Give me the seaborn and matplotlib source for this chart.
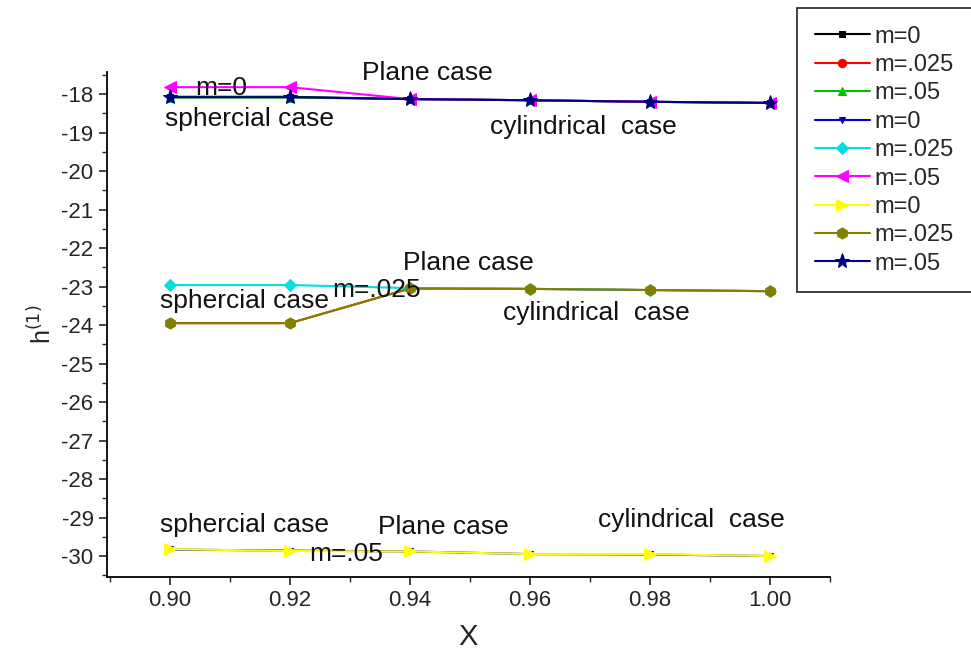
import matplotlib
matplotlib.use("Agg")
import matplotlib.pyplot as plt
import seaborn as sns
import numpy as np
from matplotlib.ticker import MultipleLocator

sns.set_style("ticks")
plt.rcParams['font.family'] = ['Liberation Sans', 'DejaVu Sans']
plt.rcParams['axes.unicode_minus'] = False

x = [0.90, 0.92, 0.94, 0.96, 0.98, 1.00]

labels = ["m=0", "m=.025", "m=.05", "m=0", "m=.025", "m=.05", "m=0", "m=.025", "m=.05"]
s1_black = [-18.07, -18.07, -18.13, -18.16, -18.20, -18.23]
s2_red = [-23.95, -23.95, -23.05, -23.06, -23.09, -23.12]
s3_green = [-18.09, -18.09, -18.13, -18.16, -18.20, -18.23]
s4_blue = [-29.83, -29.86, -29.88, -29.95, -29.96, -30.00]
s5_cyan = [-22.96, -22.96, -23.04, -23.06, -23.09, -23.12]
s6_magenta = [-17.82, -17.82, -18.13, -18.16, -18.20, -18.23]
s7_yellow = [-29.82, -29.87, -29.88, -29.95, -29.95, -30.00]
s8_olive = [-23.95, -23.95, -23.05, -23.06, -23.09, -23.12]
s9_navy = [-18.08, -18.08, -18.13, -18.16, -18.20, -18.23]

series = [s1_black, s2_red, s3_green, s4_blue, s5_cyan, s6_magenta, s7_yellow, s8_olive, s9_navy]
colors = ["black", "red", "#00c000", "#0000c8", "#00e0e0", "#ff00ff", "#ffff00", "#808000", "#000080"]
markers = ["s", "o", "^", "v", "D", "<", ">", "h", "*"]
msizes = [5, 6, 6, 5, 6, 8, 9, 8, 11]

annotations = [
    ("m=0", 0.9042, -17.85),
    ("sphercial case", 0.8992, -18.65),
    ("Plane case", 0.932, -17.45),
    ("cylindrical  case", 0.9533, -18.86),
    ("Plane case", 0.9388, -22.40),
    ("m=.025", 0.927, -23.09),
    ("sphercial case", 0.8983, -23.38),
    ("cylindrical  case", 0.9555, -23.69),
    ("sphercial case", 0.8983, -29.20),
    ("Plane case", 0.9347, -29.25),
    ("cylindrical  case", 0.9713, -29.07),
    ("m=.05", 0.9232, -29.95),
]

fig = plt.figure(figsize=(9.71, 6.5), dpi=100)
ax = fig.add_axes([0.110, 0.112, 0.745, 0.777])

for ys, c, m, ms, lab in zip(series, colors, markers, msizes, labels):
    sns.lineplot(x=x, y=ys, color=c, marker=m, markersize=ms, markeredgecolor=c,
                 linewidth=1.5, label=lab, ax=ax)

for txt, tx, ty in annotations:
    ax.text(tx, ty, txt, fontsize=19, ha="left", va="center", color="#111111")

ax.set_xlim(0.8895, 1.01)
ax.set_ylim(-30.55, -17.43)
ax.set_xticks(x)
ax.set_xticklabels(["0.90", "0.92", "0.94", "0.96", "0.98", "1.00"])
ax.set_yticks(np.arange(-30, -17, 1))
ax.xaxis.set_minor_locator(MultipleLocator(0.01))
ax.yaxis.set_minor_locator(MultipleLocator(0.5))
ax.tick_params(axis="both", which="major", direction="out", length=6, width=1.2, labelsize=16)
ax.tick_params(axis="both", which="minor", direction="out", length=3.5, width=1.0)
sns.despine(ax=ax, top=True, right=True)
for sp in ["left", "bottom"]:
    ax.spines[sp].set_linewidth(1.3)
    ax.spines[sp].set_color("black")
ax.set_xlabel("X", fontsize=21, labelpad=8)
ax.set_ylabel(r"h$^{(1)}$", fontsize=18, labelpad=4)

leg = ax.legend(loc="upper left", bbox_to_anchor=(0.8208, 0.9877), bbox_transform=fig.transFigure,
                frameon=True, fancybox=False, edgecolor="black", fontsize=17,
                handlelength=2.35, handletextpad=0.2, labelspacing=0.27, borderpad=0.75,
                numpoints=1, borderaxespad=0)
leg.get_frame().set_linewidth(1.3)

fig.savefig("out.png", dpi=100)
